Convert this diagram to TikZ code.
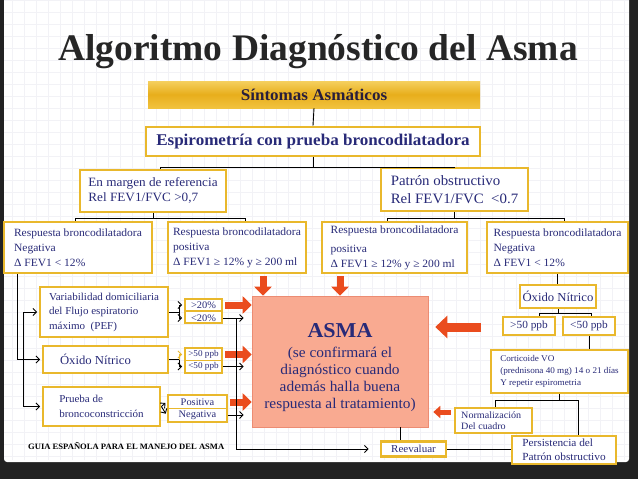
\documentclass[tikz,border=0pt]{standalone}
\usepackage{fontspec}
\setmainfont{Liberation Serif}
\newfontfamily\cf{Liberation Serif}[FakeStretch=1.04]
\usetikzlibrary{arrows.meta}
\definecolor{gold}{RGB}{233,184,44}
\definecolor{navy}{RGB}{40,42,120}
\definecolor{orng}{RGB}{234,76,30}
\definecolor{salmon}{RGB}{249,170,145}
\definecolor{salmond}{RGB}{236,140,115}
\definecolor{titlec}{RGB}{38,38,38}
\definecolor{framec}{RGB}{34,34,34}
\definecolor{gridc}{RGB}{242,242,246}
\definecolor{sintc}{RGB}{40,30,60}
\definecolor{sinttop}{RGB}{245,208,95}
\definecolor{sintmid}{RGB}{232,174,28}
\definecolor{sintbot}{RGB}{241,194,62}
\begin{document}
\begin{tikzpicture}[x=1pt,y=-1pt,
  gb/.style={draw=gold, line width=2.8pt, fill=white, inner sep=0pt, text=navy, align=left},
  ln/.style={line width=0.9pt, black},
  blk/.style={line width=0.9pt, black, -{Straight Barb[length=3.5pt,width=7pt]}, shorten >=1.5pt},
  oarr/.style={draw=orng, line width=7pt, -{Triangle[length=9pt,width=17pt]}},
  oarrL/.style={draw=orng, line width=9pt, -{Triangle[length=12pt,width=22pt]}},
  oarrS/.style={draw=orng, line width=5pt, -{Triangle[length=7pt,width=12pt]}},
  tx/.style={text=navy, inner sep=0pt}
]
\useasboundingbox (0,0) rectangle (638,479);
\fill[framec] (0,0) rectangle (638,479);
\fill[white, rounded corners=3pt] (4,-5) rectangle (629,462);
\draw[gridc, line width=0.3pt, step=12pt] (4,0) grid (629,460);

% title
\node[font=\fontsize{37.5}{40}\selectfont\bfseries, text=titlec, anchor=base, inner sep=0pt] (title) at (318,60) {Algoritmo Diagnóstico del Asma};

% top boxes
\node[minimum width=332pt, minimum height=27pt, inner sep=0pt, top color=sinttop, bottom color=sintbot, middle color=sintmid, text=sintc, font=\cf\bfseries\fontsize{16.4}{18}\selectfont] (sint) at (314,94.5) {Síntomas Asmáticos};
\node[gb, minimum width=334pt, minimum height=29pt, font=\cf\bfseries\fontsize{16.4}{18}\selectfont] (esp) at (313,141.5) {Espirometría con prueba broncodilatadora};
\node[gb, minimum width=146pt, minimum height=42pt, font=\cf\fontsize{12.7}{15}\selectfont] (marg) at (153,191) {En margen de referencia\\Rel FEV1/FVC >0,7};
\node[gb, minimum width=147pt, minimum height=43pt, font=\cf\fontsize{14.3}{18}\selectfont] (patr) at (454.5,189.5) {Patrón obstructivo\\Rel FEV1/FVC~ <0.7};

% respuesta boxes
\tikzset{rb/.style={gb, minimum height=51pt, font=\cf\fontsize{11.1}{15}\selectfont}}
\node[rb, minimum width=148pt] (rbn1) at (78,247.5) {Respuesta broncodilatadora\\Negativa\\Δ FEV1 < 12\%};
\node[rb, minimum width=138pt] (rbp1) at (237,247.5) {Respuesta broncodilatadora\\positiva\\Δ FEV1 ≥ 12\% y ≥ 200 ml};
\node[rb, minimum width=145pt] (rbp2) at (394.5,247.5) {Respuesta broncodilatadora\\[4pt]positiva\\Δ FEV1 ≥ 12\% y ≥ 200 ml};
\node[rb, minimum width=141pt] (rbn2) at (557.5,247.5) {Respuesta broncodilatadora\\Negativa\\Δ FEV1 < 12\%};

% left column
\node[gb, minimum width=128pt, minimum height=50pt, font=\cf\fontsize{10.6}{14.5}\selectfont] (vari) at (104,312) {Variabilidad domiciliaria\\del Flujo espiratorio\\máximo~ (PEF)};
\node[gb, minimum width=125pt, minimum height=27pt, font=\cf\fontsize{12.2}{14}\selectfont] (oxl) at (105.5,359.5) {\hspace*{-20pt}Óxido Nítrico};
\node[gb, minimum width=117pt, minimum height=39pt, font=\cf\fontsize{10.6}{15}\selectfont] (prue) at (101.5,406.5) {Prueba de\\broncoconstricción};

% small result boxes
\node[gb, minimum width=37pt, minimum height=24pt] (p20) at (203.5,311) {};
\draw[gold, line width=1.2pt] (p20.west) -- (p20.east);
\node[tx, font=\cf\fontsize{10}{10}\selectfont] (p20a) at (203.5,305) {>20\%};
\node[tx, font=\cf\fontsize{10}{10}\selectfont] (p20b) at (203.5,318) {<20\%};
\node[gb, minimum width=37pt, minimum height=25pt] (p50) at (203.5,360.5) {};
\draw[gold, line width=1.2pt] (p50.west) -- (p50.east);
\node[tx, font=\cf\fontsize{8.8}{9}\selectfont] (p50a) at (203.5,354.5) {>50 ppb};
\node[tx, font=\cf\fontsize{8.8}{9}\selectfont] (p50b) at (203.5,366.5) {<50 ppb};
\node[gb, minimum width=59pt, minimum height=27pt] (ppn) at (197.5,408.5) {};
\draw[gold, line width=1.2pt] (ppn.west) -- (ppn.east);
\node[tx, font=\cf\fontsize{10}{10}\selectfont] (ppna) at (197.5,402) {Positiva};
\node[tx, font=\cf\fontsize{10}{10}\selectfont] (ppnb) at (197.5,415) {Negativa};

% ASMA
\node[fill=salmon, draw=salmond, line width=0.6pt, minimum width=176pt, minimum height=131pt, inner sep=0pt] (asma) at (340,361.5) {};
\node[tx, anchor=base, font=\cf\bfseries\fontsize{21.2}{22}\selectfont] (asmaT) at (340,337) {ASMA};
\node[tx, anchor=base, font=\cf\fontsize{14.8}{16}\selectfont] (asma1) at (340,357) {(se confirmará el};
\node[tx, anchor=base, font=\cf\fontsize{14.8}{16}\selectfont] (asma2) at (340,374) {diagnóstico cuando};
\node[tx, anchor=base, font=\cf\fontsize{14.8}{16}\selectfont] (asma3) at (340,391) {además halla buena};
\node[tx, anchor=base, font=\cf\fontsize{14.8}{16}\selectfont] (asma4) at (340,408) {respuesta al tratamiento)};

\node[gb, minimum width=65pt, minimum height=15pt, font=\cf\fontsize{10.6}{11}\selectfont] (reev) at (413.5,449) {Reevaluar};

% right column
\node[gb, minimum width=76pt, minimum height=23pt, font=\cf\fontsize{12.2}{14}\selectfont] (oxr) at (558,296.5) {Óxido Nítrico};
\node[gb, minimum width=52pt, minimum height=18pt, font=\cf\fontsize{10.9}{12}\selectfont] (gt50) at (529,326) {>50 ppb};
\node[gb, minimum width=52pt, minimum height=18pt, font=\cf\fontsize{10.9}{12}\selectfont] (lt50) at (589,326) {<50 ppb};
\node[gb, minimum width=137pt, minimum height=43pt, font=\cf\fontsize{8.8}{12}\selectfont] (cort) at (559.5,371.5) {Corticoide VO\\(prednisona 40 mg) 14 o 21 días\\Y repetir espirometria};
\node[gb, minimum width=77pt, minimum height=25pt, font=\cf\fontsize{9.7}{11.5}\selectfont] (norm) at (493.5,420.5) {Normalización\\Del cuadro\hspace*{20pt}};
\node[gb, minimum width=104pt, minimum height=28pt, font=\cf\fontsize{10.9}{14}\selectfont] (pers) at (564,450) {Persistencia del\\Patrón obstructivo};

\node[anchor=base west, inner sep=0pt, text=black, font=\cf\bfseries\fontsize{8.25}{9}\selectfont] (guia) at (28,449) {GUIA ESPAÑOLA PARA EL MANEJO DEL ASMA};

% top connectors
\draw[ln] (sint.south) -- (esp.north);
\draw[ln] (esp.south) -- ++(0,10.5) coordinate (e1);
\draw[ln] (e1) -| ([xshift=7pt]marg.north);
\draw[ln] (e1) -| (patr.north);
\draw[ln] (marg.south) -- ++(0,5) coordinate (m1);
\draw[ln] (m1) -| ([xshift=-3pt]rbn1.north);
\draw[ln] (m1) -| ([xshift=8pt]rbp1.north);
\draw[ln] (patr.south) -- ++(0,6) coordinate (pp1);
\draw[ln] (pp1) -| ([xshift=-7pt]rbp2.north);
\draw[ln] (pp1) -| ([xshift=7pt]rbn2.north);

% orange down arrows
\draw[oarr, shorten <=2pt] ([xshift=26pt]rbp1.south) -- ([xshift=26pt]rbp1.south |- asma.north);
\draw[oarr, shorten <=2pt] ([xshift=-54.5pt]rbp2.south) -- ([xshift=-54.5pt]rbp2.south |- asma.north);

% left connectors
\draw[blk] ([xshift=-61pt]rbn1.south) |- (oxl.west);
\coordinate (lvtop) at ([xshift=-15pt]vari.west);
\draw[blk] (lvtop) -- (vari.west);
\draw[blk] (lvtop) |- (prue.west);

% middle connectors
\draw[ln] (vari.east) -- ++(10,0) coordinate (v1);
\draw[blk] (v1) |- (p20.west |- p20a);
\draw[blk] (v1) |- (p20.west |- p20b);
\draw[ln] (oxl.east) -- ++(10,0) coordinate (o1);
\draw[blk, gold] (o1) |- (p50.west |- p50a);
\draw[blk] (o1) |- (p50.west |- p50b);
\draw[blk] (prue.east) -- (ppn.west |- ppna);
\draw[blk] (prue.east) -- (ppn.west |- ppnb);

% orange right arrows
\draw[oarr, shorten <=2pt] (p20.east |- p20a) -- (asma.west |- p20a);
\draw[oarr, shorten <=2pt] (p50.east |- p50a) -- (asma.west |- p50a);
\draw[oarr, shorten <=2pt] (ppn.east |- ppna) -- (asma.west |- ppna);

% black right arrows
\draw[blk, shorten >=8pt] (p20.east |- p20b) -- (asma.west |- p20b);
\draw[blk, shorten >=8pt] (p50.east |- p50b) -- (asma.west |- p50b);
\draw[blk, shorten >=8pt] (ppn.east |- ppnb) -- (asma.west |- ppnb);
\draw[blk, shorten >=11pt] ([xshift=13pt]p20.east |- p20b) |- (reev.west);

% bottom connectors
\draw[ln] ([xshift=60pt]asma.south) -- ([xshift=60pt]asma.south |- reev.north);
\draw[ln] (reev.east) -- (pers.west |- reev.east);

% right connectors
\draw[ln] (rbn2.south) -- (rbn2.south |- oxr.north);
\draw[ln] (oxr.south) -- ++(0,4) coordinate (x1);
\draw[ln] (x1) -| ([xshift=10pt]gt50.north);
\draw[ln] (x1) -| ([xshift=2pt]lt50.north);
\draw[ln] (lt50.south) -- (lt50.south |- cort.north);
\draw[ln] (cort.south) -- ++(0,6) coordinate (c1);
\draw[ln] (c1) -| ([xshift=1.5pt]norm.north);
\draw[ln] (c1) -| ([xshift=14pt]pers.north);

% orange left arrows
\coordinate (bigA) at (481,327);
\draw[oarrL, shorten >=7pt] (bigA) -- (bigA -| asma.east);
\draw[oarrS, shorten <=3pt, shorten >=5pt] ([yshift=8.5pt]norm.west) -- ([yshift=8.5pt]norm.west -| asma.east);
\end{tikzpicture}
\end{document}
